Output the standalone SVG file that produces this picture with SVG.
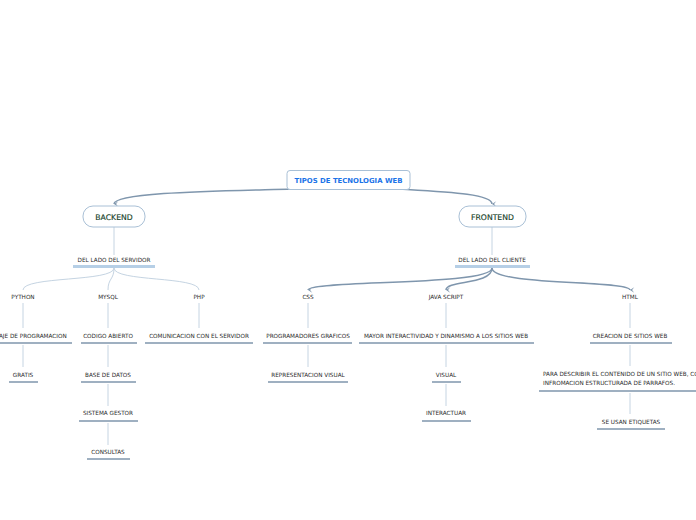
<svg xmlns="http://www.w3.org/2000/svg" width="696" height="520" viewBox="0 0 696 520">
<defs>
<marker id="arr" viewBox="0 0 10 10" refX="5" refY="8" markerWidth="7" markerHeight="7" orient="auto-start-reverse" markerUnits="userSpaceOnUse">
<path d="M1,2 L5,8 L9,2 L5,5 Z" fill="#7f96ad"/>
</marker>
<style>
text{font-family:"DejaVu Sans","Liberation Sans",sans-serif;text-anchor:middle;fill:#2b2b2b}
.t{font-size:5.7px}
.root{font-size:6.9px;font-weight:bold;fill:#1a73e8}
.main{font-size:7.7px;fill:#163f28;stroke:#163f28;stroke-width:0.15}
.box{fill:#fff;stroke:#a9c0d6;stroke-width:1}
.ul{stroke:#7f96ad;stroke-width:1.5}
.ul2{stroke:#b6cfe6;stroke-width:3}
.c{fill:none;stroke:#c5d4e2;stroke-width:1}
.ca{fill:none;stroke:#7f96ad;stroke-width:1.5}
</style>
</defs>
<rect width="696" height="520" fill="#fff"/>
<g id="connectors">
<path class="ca" d="M292,189 C220,191 114,192 114,204" marker-end="url(#arr)"/>
<path class="ca" d="M400,189 C450,192 492,194 492,204" marker-end="url(#arr)"/>
<line class="c" x1="114" y1="227" x2="114" y2="255"/>
<line class="c" x1="492" y1="227" x2="492" y2="255"/>
<path class="c" d="M114,268 C114,282 23,276 23,290"/>
<path class="c" d="M114,268 C114,280 108,278 108,290"/>
<path class="c" d="M114,268 C114,282 199,276 199,290"/>
<path class="ca" d="M492,268 C492,286 308,280 308,290" marker-end="url(#arr)"/>
<path class="ca" d="M492,268 C492,285 446,280 446,290" marker-end="url(#arr)"/>
<path class="ca" d="M492,268 C492,286 630,280 630,290" marker-end="url(#arr)"/>
<line class="c" x1="23" y1="303" x2="23" y2="328"/>
<line class="c" x1="23" y1="345" x2="23" y2="367"/>
<line class="c" x1="108" y1="303" x2="108" y2="328"/>
<line class="c" x1="108" y1="345" x2="108" y2="367"/>
<line class="c" x1="108" y1="384" x2="108" y2="406"/>
<line class="c" x1="108" y1="423" x2="108" y2="445"/>
<line class="c" x1="199" y1="303" x2="199" y2="328"/>
<line class="c" x1="308" y1="303" x2="308" y2="328"/>
<line class="c" x1="308" y1="345" x2="308" y2="367"/>
<line class="c" x1="446" y1="303" x2="446" y2="328"/>
<line class="c" x1="446" y1="345" x2="446" y2="367"/>
<line class="c" x1="446" y1="384" x2="446" y2="406"/>
<line class="c" x1="630" y1="303" x2="630" y2="328"/>
<line class="c" x1="630" y1="345" x2="630" y2="366"/>
<line class="c" x1="630" y1="393" x2="630" y2="414"/>
</g>
<g id="root">
<rect class="box" x="287" y="170.5" width="123" height="19" rx="3"/>
<text class="root" x="348.5" y="182.5">TIPOS DE TECNOLOGIA WEB</text>
</g>
<g id="backend">
<rect class="box" x="83" y="206" width="62" height="21" rx="10"/>
<text class="main" x="114" y="219.5">BACKEND</text>
</g>
<g id="frontend">
<rect class="box" x="459" y="206" width="67" height="21" rx="10"/>
<text class="main" x="492.5" y="219.5">FRONTEND</text>
</g>
<g id="servidor"><text class="t" x="114" y="262">DEL LADO DEL SERVIDOR</text><line class="ul2" x1="73" y1="266.5" x2="155" y2="266.5"/></g>
<g id="cliente"><text class="t" x="492" y="262">DEL LADO DEL CLIENTE</text><line class="ul2" x1="455" y1="266.5" x2="530" y2="266.5"/></g>
<g id="python"><text class="t" x="23" y="299">PYTHON</text></g>
<g id="mysql"><text class="t" x="108" y="299">MYSQL</text></g>
<g id="php"><text class="t" x="199" y="299">PHP</text></g>
<g id="css"><text class="t" x="308" y="299">CSS</text></g>
<g id="javascript"><text class="t" x="446" y="299">JAVA SCRIPT</text></g>
<g id="html"><text class="t" x="630" y="299">HTML</text></g>
<g id="lenguaje"><text class="t" x="23" y="338">LENGUAJE DE PROGRAMACION</text><line class="ul" x1="-22" y1="343" x2="72" y2="343"/></g>
<g id="gratis"><text class="t" x="23" y="377">GRATIS</text><line class="ul" x1="9" y1="382" x2="38" y2="382"/></g>
<g id="codigo"><text class="t" x="108" y="338">CODIGO ABIERTO</text><line class="ul" x1="81" y1="343" x2="137" y2="343"/></g>
<g id="base"><text class="t" x="108" y="377">BASE DE DATOS</text><line class="ul" x1="81" y1="382" x2="136" y2="382"/></g>
<g id="sistema"><text class="t" x="108" y="415">SISTEMA GESTOR</text><line class="ul" x1="79" y1="421" x2="138" y2="421"/></g>
<g id="consultas"><text class="t" x="108" y="454">CONSULTAS</text><line class="ul" x1="87" y1="459" x2="130" y2="459"/></g>
<g id="comunicacion"><text class="t" x="199" y="338">COMUNICACION CON EL SERVIDOR</text><line class="ul" x1="145" y1="343" x2="253" y2="343"/></g>
<g id="programadores"><text class="t" x="308" y="338">PROGRAMADORES GRAFICOS</text><line class="ul" x1="263" y1="343" x2="352" y2="343"/></g>
<g id="representacion"><text class="t" x="308" y="377">REPRESENTACION VISUAL</text><line class="ul" x1="268" y1="382" x2="348" y2="382"/></g>
<g id="mayor"><text class="t" x="446" y="338">MAYOR INTERACTIVIDAD Y DINAMISMO A LOS SITIOS WEB</text><line class="ul" x1="359" y1="343" x2="534" y2="343"/></g>
<g id="visual"><text class="t" x="446" y="377">VISUAL</text><line class="ul" x1="432" y1="382" x2="461" y2="382"/></g>
<g id="interactuar"><text class="t" x="446" y="415">INTERACTUAR</text><line class="ul" x1="422" y1="421" x2="471" y2="421"/></g>
<g id="creacion"><text class="t" x="630" y="338">CREACION DE SITIOS WEB</text><line class="ul" x1="590" y1="343" x2="672" y2="343"/></g>
<g id="para"><text class="t" x="543" y="376" style="text-anchor:start">PARA DESCRIBIR EL CONTENIDO DE UN SITIO WEB, CON</text><text class="t" x="543" y="384.5" style="text-anchor:start">INFROMACION ESTRUCTURADA DE PARRAFOS.</text><line class="ul" x1="539" y1="391" x2="700" y2="391"/></g>
<g id="etiquetas"><text class="t" x="631" y="424">SE USAN ETIQUETAS</text><line class="ul" x1="597" y1="429" x2="665" y2="429"/></g>
</svg>
